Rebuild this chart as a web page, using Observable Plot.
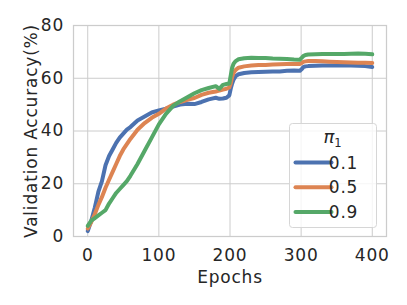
<!DOCTYPE html>
<html><head><meta charset="utf-8">
<script src="https://cdn.jsdelivr.net/npm/d3@7"></script>
<script src="https://cdn.jsdelivr.net/npm/@observablehq/plot@0.6"></script>
<style>body{margin:0;background:#fff;}</style>
</head><body><div id="chart"></div>
<script>
const epochs = [0,5,10,15,20,25,30,35,40,45,50,55,60,70,80,90,100,110,120,130,140,150,160,170,180,185,190,195,199,201,203,205,208,212,220,230,240,250,260,270,280,290,298,301,303,306,310,320,330,340,350,360,370,380,390,400];
const acc01 = [2,6,11,17,21,27,30.5,33,35.5,37.5,39,40.5,41.5,44,45.5,47,47.8,48.5,49.3,50,50.3,50.2,51,52,52.6,52.2,52.3,52.6,53.5,56,58,59.5,60.8,61.5,62,62.3,62.4,62.5,62.6,62.6,62.8,62.9,62.8,63.5,64.2,64.5,64.6,64.7,64.8,64.8,64.8,64.8,64.8,64.7,64.6,64.3];
const acc05 = [3,5.5,8.5,12,15,18.5,21.5,24.5,27.5,30.5,33,35,37,40.5,43,45,46.5,48.5,50,51,51.8,52.5,53.7,54.5,55,55.3,55.7,56,56.5,58,60.5,62,63.2,64,64.5,64.8,65,65,65.2,65.3,65.4,65.4,65.4,65.8,66.2,66.4,66.5,66.5,66.4,66.3,66.2,66.1,66,65.9,65.9,65.8];
const acc09 = [4,6,7,8,9,10,12.5,14.5,16.5,18,19.5,21,23,27.5,32.5,37.5,42.5,46.5,49.5,51.3,52.8,54.3,55.5,56.3,57,56,57.5,57.8,58,61,64,65.5,66.5,67.2,67.6,67.8,67.7,67.7,67.5,67.4,67.3,67.1,67,67.8,68.4,68.8,69,69.1,69.2,69.2,69.2,69.2,69.3,69.4,69.3,69.1];
const seriesNames = ["0.1","0.5","0.9"];
const seriesColors = ["#4c72b0","#dd8452","#55a868"];
const xTicks = [0,100,200,300,400];
const yTicks = [0,20,40,60,80];

const data = [];
[acc01, acc05, acc09].forEach((arr, i) => arr.forEach((v, j) => data.push({epoch: epochs[j], acc: v, pi: seriesNames[i]})));

const plot = Plot.plot({
  width: 407, height: 305,
  marginLeft: 73, marginRight: 21, marginTop: 25, marginBottom: 69,
  style: {fontFamily: "DejaVu Sans", fontSize: "17px", letterSpacing: "0.8px", color: "#262626", background: "#fff", overflow: "visible"},
  x: {domain: [-20, 420]},
  y: {domain: [0, 80]},
  color: {domain: seriesNames, range: seriesColors},
  marks: [
    Plot.gridX(xTicks, {stroke: "#cccccc", strokeOpacity: 1, strokeWidth: 1}),
    Plot.gridY(yTicks, {stroke: "#cccccc", strokeOpacity: 1, strokeWidth: 1}),
    Plot.frame({stroke: "#cccccc", strokeWidth: 1.25}),
    Plot.lineY(data, {x: "epoch", y: "acc", stroke: "pi", z: "pi", strokeWidth: 4, strokeLinejoin: "round", strokeLinecap: "round"}),
    Plot.axisX(xTicks, {tickSize: 0, tickPadding: 12.6, fontSize: 17, label: "Epochs", labelAnchor: "center", labelArrow: "none", labelOffset: 46.5}),
    Plot.axisY(yTicks, {tickSize: 0, tickPadding: 9.5, fontSize: 17, label: "Validation Accuracy(%)", labelAnchor: "center", labelArrow: "none", labelOffset: 48.4})
  ]
});
document.getElementById("chart").appendChild(plot);

// legend
const svg = d3.select(plot);
const g = svg.append("g").attr("transform", "translate(289.5,123.5)").attr("font-family", "DejaVu Sans").attr("fill", "#262626");
g.append("rect").attr("width", 87).attr("height", 104).attr("rx", 3)
  .attr("fill", "#fff").attr("fill-opacity", 0.8).attr("stroke", "#d6d6d6").attr("stroke-width", 1);
const t = g.append("text").attr("x", 43).attr("y", 19.8).attr("text-anchor", "middle").attr("font-size", 18).attr("letter-spacing", "0");
t.append("tspan").attr("font-style", "italic").text("π");
t.append("tspan").attr("font-size", 11.5).attr("dy", 3.4).text("1");
seriesNames.forEach((n, i) => {
  const y = 39 + i * 24.7;
  g.append("line").attr("x1", 6).attr("x2", 42).attr("y1", y).attr("y2", y)
    .attr("stroke", seriesColors[i]).attr("stroke-width", 4).attr("stroke-linecap", "round");
  g.append("text").attr("x", 54).attr("y", y).attr("dy", "0.36em").attr("font-size", 17).text(n);
});
</script>
</body></html>
